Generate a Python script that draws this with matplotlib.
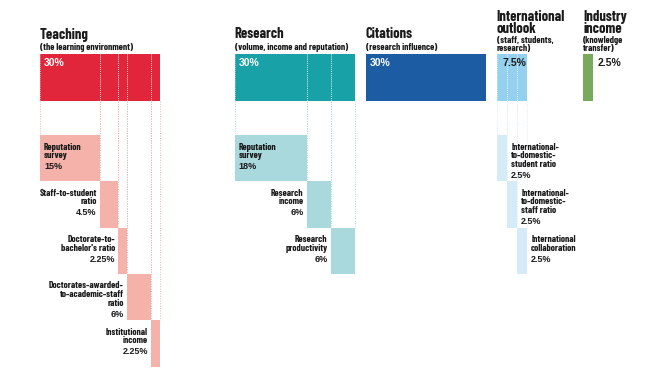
import matplotlib
matplotlib.use("Agg")
import matplotlib.pyplot as plt

# weights of the pillars (percent of overall score)
groups = ["Teaching", "Research", "Citations", "International\noutlook", "Industry\nincome"]
subtitles = ["(the learning environment)", "(volume, income and reputation)",
             "(research influence)", "(staff, students,\nresearch)", "(knowledge\ntransfer)"]
totals = [30, 30, 30, 7.5, 2.5]
total_labels = ["30%", "30%", "30%", "7.5%", "2.5%"]

teaching_items = ["Reputation\nsurvey", "Staff-to-student\nratio", "Doctorate-to-\nbachelor's ratio",
                  "Doctorates-awarded-\nto-academic-staff\nratio", "Institutional\nincome"]
teaching_values = [15, 4.5, 2.25, 6, 2.25]
teaching_labels = ["15%", "4.5%", "2.25%", "6%", "2.25%"]

research_items = ["Reputation\nsurvey", "Research\nincome", "Research\nproductivity"]
research_values = [18, 6, 6]
research_labels = ["18%", "6%", "6%"]

intl_items = ["International-\nto-domestic-\nstudent ratio", "International-\nto-domestic-\nstaff ratio",
              "International\ncollaboration"]
intl_values = [2.5, 2.5, 2.5]
intl_labels = ["2.5%", "2.5%", "2.5%"]

# layout (x in percentage points, y in pixels from top)
group_x = [10, 58.7, 91.5, 124.2, 145.8]
main_colors = ["#e1263c", "#18a1a7", "#1b5ca2", "#93d1ef", "#79a95c"]
sub_colors = ["#f5b2aa", "#a9d9dc", None, "#d6ebf8", None]
main_top, main_h = 54, 46.5
row_top, row_h = 135, 46.3
dark = "#1a1a1a"
narrow = ["Barlow Condensed", "DejaVu Sans"]
wide = ["Liberation Sans", "DejaVu Sans"]

fig = plt.figure(figsize=(6.6, 3.71), dpi=100)
ax = fig.add_axes([0, 0, 1, 1])
ax.set_xlim(0, 165)
ax.set_ylim(371, 0)
ax.axis("off")

# headers and main bars
for i, g in enumerate(groups):
    two = "\n" in g
    ax.text(group_x[i], 10 if two else 27.5, g, family=narrow, weight="bold", fontsize=10.5,
            color=dark, va="top", ha="left", linespacing=0.8)
    ax.text(group_x[i], 36 if two else 43, subtitles[i], family=narrow, weight="bold", fontsize=6.9,
            color=dark, va="top", ha="left", linespacing=0.85)
    ax.barh(main_top, totals[i], left=group_x[i], height=main_h, align="edge",
            color=main_colors[i], linewidth=0)

ax.text(group_x[0] + 1, 58, total_labels[0], family=wide, weight="bold", fontsize=7.5, color="white", va="top")
ax.text(group_x[1] + 1, 58, total_labels[1], family=wide, weight="bold", fontsize=7.5, color="white", va="top")
ax.text(group_x[2] + 1, 58, total_labels[2], family=wide, weight="bold", fontsize=7.5, color="white", va="top")
ax.text(group_x[3] + totals[3] - 0.1, 58, total_labels[3], family=wide, weight="bold", fontsize=7.5,
        color=dark, va="top", ha="right")
ax.text(group_x[4] + totals[4] + 1.1, 58, total_labels[4], family=wide, weight="bold", fontsize=7.5,
        color=dark, va="top")


def breakdown(gi, items, values, labels, side):
    left = group_x[gi]
    for k, (name, v, lab) in enumerate(zip(items, values, labels)):
        top = row_top + k * row_h
        ax.barh(top, v, left=left, height=row_h, align="edge", color=sub_colors[gi], linewidth=0)
        # dotted guides from the main bar down to this segment
        for ex in (left, left + v):
            ax.vlines(ex, main_top, main_top + main_h, colors="white", linestyles=(0, (1, 1.5)),
                      linewidth=0.6, alpha=0.7)
            ax.vlines(ex, main_top + main_h, top, colors=sub_colors[gi], linestyles=(0, (1, 1.5)),
                      linewidth=0.7)
        nl = name.count("\n") + 1
        if side == "inside":
            tx, ha = left + 1, "left"
        elif side == "left":
            tx, ha = left - 0.8, "right"
        else:
            tx, ha = left + v + 1.1, "left"
        ty = top + 7.5
        ax.text(tx, ty, name, family=narrow, weight="bold", fontsize=6.9, color=dark,
                va="top", ha=ha, linespacing=0.95)
        ax.text(tx, ty + nl * 9.2 + 1, lab, family=wide, weight="bold", fontsize=6.5, color=dark,
                va="top", ha=ha)
        if side == "inside":
            side = "left"
        left += v


breakdown(0, teaching_items, teaching_values, teaching_labels, "inside")
breakdown(1, research_items, research_values, research_labels, "inside")
breakdown(3, intl_items, intl_values, intl_labels, "right")

fig.savefig("out.png", dpi=100, facecolor="white")
